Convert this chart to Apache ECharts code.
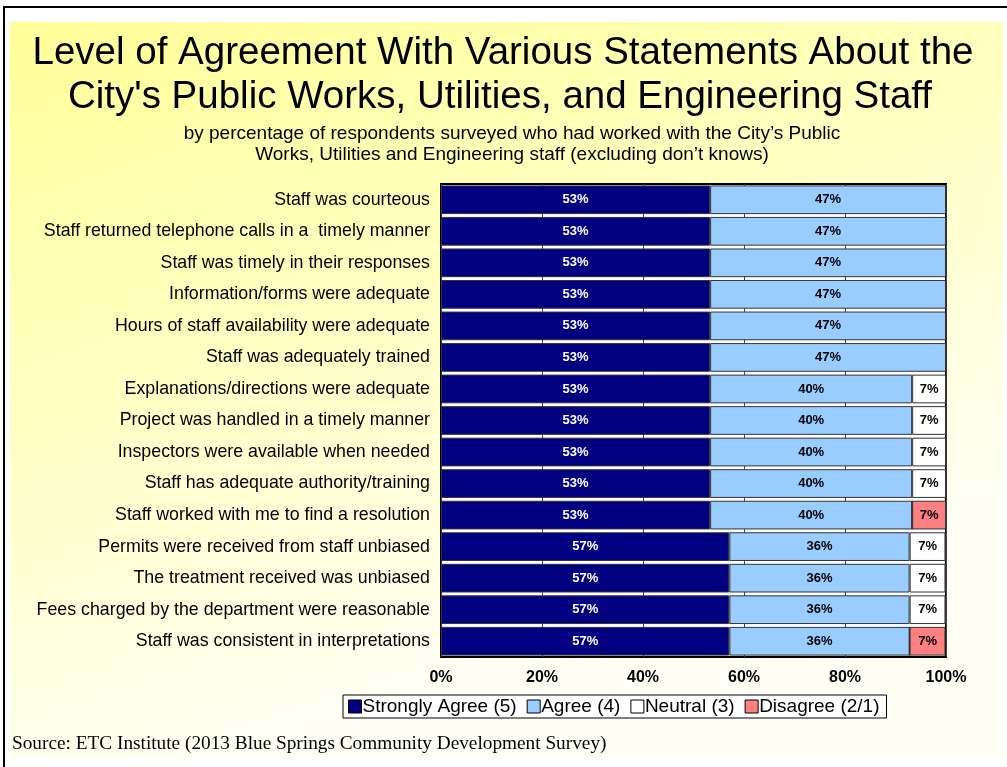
<!DOCTYPE html>
<html>
<head>
<meta charset="utf-8">
<script src="https://cdn.jsdelivr.net/npm/echarts@6/dist/echarts.min.js"></script>
<style>
html, body { margin: 0; padding: 0; background: #fff; }
#chart { width: 1007px; height: 767px; }
</style>
</head>
<body>
<div id="chart"></div>
<script>
// 各项陈述（自上而下）
var statements = [
    'Staff was courteous',
    'Staff returned telephone calls in a  timely manner',
    'Staff was timely in their responses',
    'Information/forms were adequate',
    'Hours of staff availability were adequate',
    'Staff was adequately trained',
    'Explanations/directions were adequate',
    'Project was handled in a timely manner',
    'Inspectors were available when needed',
    'Staff has adequate authority/training',
    'Staff worked with me to find a resolution',
    'Permits were received from staff unbiased',
    'The treatment received was unbiased',
    'Fees charged by the department were reasonable',
    'Staff was consistent in interpretations'
];
var stronglyAgree = [53.3, 53.3, 53.3, 53.3, 53.3, 53.3, 53.3, 53.3, 53.3, 53.3, 53.3, 57.1, 57.1, 57.1, 57.1];
var agree         = [46.7, 46.7, 46.7, 46.7, 46.7, 46.7, 40.0, 40.0, 40.0, 40.0, 40.0, 35.7, 35.7, 35.7, 35.7];
var neutral       = [0, 0, 0, 0, 0, 0, 6.7, 6.7, 6.7, 6.7, 0, 7.1, 7.1, 7.1, 0];
var disagree      = [0, 0, 0, 0, 0, 0, 0, 0, 0, 0, 6.7, 0, 0, 0, 7.1];
var xTicks = ['0%', '20%', '40%', '60%', '80%', '100%'];

var seriesNames = ['Strongly Agree (5)', 'Agree (4)', 'Neutral (3)', 'Disagree (2/1)'];
var seriesData = [stronglyAgree, agree, neutral, disagree];
var seriesColors = ['#000080', '#99CCFF', '#FFFFFF', '#FF8080'];
var labelColors = ['#FFFFFF', '#000000', '#000000', '#000000'];

var font = 'Liberation Sans, Arial, sans-serif';

var series = [];
for (var i = 0; i < seriesNames.length; i++) {
    series.push({
        name: seriesNames[i],
        type: 'bar',
        stack: 'total',
        barCategoryGap: '9%',
        data: seriesData[i],
        itemStyle: {
            color: seriesColors[i],
            borderColor: '#333',
            borderWidth: 1
        },
        label: {
            show: true,
            position: 'inside',
            color: labelColors[i],
            fontFamily: font,
            fontWeight: 'bold',
            fontSize: 13,
            formatter: function (p) {
                return p.value > 0 ? Math.round(p.value) + '%' : '';
            }
        }
    });
}

var myChart = echarts.init(document.getElementById('chart'));
var option = {
    animation: false,
    backgroundColor: '#FFFFFF',
    graphic: [
        {
            type: 'rect',
            shape: { x: 10, y: 22, width: 993, height: 736 },
            style: {
                fill: new echarts.graphic.LinearGradient(0, 0, 0.25, 1, [
                    { offset: 0, color: '#FFFF99' },
                    { offset: 0.6, color: '#FFFFCC' },
                    { offset: 1, color: '#FFFFF6' }
                ])
            },
            z: -10
        },
        {
            type: 'polyline',
            shape: { points: [[1007, 7], [4, 7], [4, 767]] },
            style: { stroke: '#000', lineWidth: 2, fill: null },
            z: -5
        },
        {
            type: 'text', x: 503, y: 53,
            style: { text: 'Level of Agreement With Various Statements About the', font: '38.5px ' + font, fill: '#000', textAlign: 'center', textVerticalAlign: 'middle' }
        },
        {
            type: 'text', x: 500, y: 97,
            style: { text: "City's Public Works, Utilities, and Engineering Staff", font: '38.5px ' + font, fill: '#000', textAlign: 'center', textVerticalAlign: 'middle' }
        },
        {
            type: 'text', x: 512, y: 134,
            style: { text: "by percentage of respondents surveyed who had worked with the City\u2019s Public", font: '19px ' + font, fill: '#000', textAlign: 'center', textVerticalAlign: 'middle' }
        },
        {
            type: 'text', x: 512, y: 155,
            style: { text: "Works, Utilities and Engineering staff (excluding don\u2019t knows)", font: '19px ' + font, fill: '#000', textAlign: 'center', textVerticalAlign: 'middle' }
        },
        {
            type: 'text', x: 12, y: 744,
            style: { text: 'Source: ETC Institute (2013 Blue Springs Community Development Survey)', font: '19.3px Liberation Serif, Times New Roman, serif', fill: '#000', textVerticalAlign: 'middle' }
        }
    ],
    grid: {
        left: 441,
        right: 61,
        top: 184,
        bottom: 110,
        show: true,
        backgroundColor: '#FFFFFF',
        borderColor: '#000',
        borderWidth: 2
    },
    legend: {
        data: seriesNames,
        left: 343,
        top: 695,
        padding: [2, 7, 2, 5],
        backgroundColor: '#FFFFFF',
        borderColor: '#000',
        borderWidth: 1,
        itemWidth: 13,
        itemHeight: 13,
        itemGap: 10,
        icon: 'rect',
        itemStyle: { borderColor: '#000', borderWidth: 1 },
        textStyle: { fontFamily: font, fontSize: 19, color: '#000', padding: [0, 0, 0, -4] }
    },
    xAxis: {
        type: 'value',
        min: 0,
        max: 100,
        interval: 20,
        axisLine: { show: false },
        axisTick: { show: false },
        axisLabel: {
            margin: 13,
            fontFamily: font,
            fontWeight: 'bold',
            fontSize: 16,
            color: '#000',
            formatter: function (v) { return xTicks[v / 20]; }
        },
        splitLine: { show: true, lineStyle: { color: '#444', width: 1 } }
    },
    yAxis: {
        type: 'category',
        data: statements,
        inverse: true,
        axisLine: { show: false },
        axisTick: { show: false },
        axisLabel: {
            margin: 11,
            fontFamily: font,
            fontSize: 17.8,
            color: '#000'
        }
    },
    series: series
};
myChart.setOption(option);
</script>
</body>
</html>
